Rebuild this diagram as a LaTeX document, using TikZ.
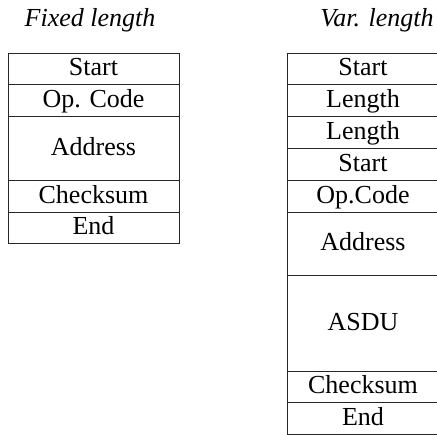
\documentclass[tikz,border=0pt]{standalone}
\usepackage{fontspec}
\setmainfont{Liberation Serif}
\usetikzlibrary{positioning}
\begin{document}
\begin{tikzpicture}[line width = 0.5pt,
field/.style = { draw = black!85, inner sep = 0pt, outer sep = 0pt, minimum height = #1*15.9pt,
font = \fontsize{13pt}{15pt}\selectfont, text height = 9.5pt, text depth = 2.5pt},
field/.default = 1,
fixfield/.style = { field = #1, minimum width = 85.5pt },
fixfield/.default = 1,
varfield/.style = { field = #1, minimum width = 76pt },
varfield/.default = 1,
title/.style = { font = \fontsize{13pt}{15pt}\selectfont\itshape }]
\useasboundingbox (0,0) rectangle (218.5pt,-217pt);
% titles
\node[title] (fixtitle) at (45pt,-10pt) {Fixed length};
\node[title] (vartitle) at (188.5pt,-10pt) {Var. length};
% fixed length frame
\node[fixfield, anchor = north west] (fstart) at (4pt,-26.5pt) {Start};
\node[fixfield, below = 0pt of fstart] (fop) {Op. Code};
\node[fixfield = 2, below = 0pt of fop] (faddr) {Address};
\node[fixfield, below = 0pt of faddr] (fsum) {Checksum};
\node[fixfield, below = 0pt of fsum] (fend) {End};
% variable length frame
\node[varfield, anchor = north west] (vstart) at (143.5pt,-26.5pt) {Start};
\node[varfield, below = 0pt of vstart] (vlen) {Length};
\node[varfield, below = 0pt of vlen] (vlenb) {Length};
\node[varfield, below = 0pt of vlenb] (vstartb) {Start};
\node[varfield, below = 0pt of vstartb] (vop) {Op.Code};
\node[varfield = 2, below = 0pt of vop] (vaddr) {Address};
\node[varfield = 3, below = 0pt of vaddr] (vasdu) {ASDU};
\node[varfield, below = 0pt of vasdu] (vsum) {Checksum};
\node[varfield, below = 0pt of vsum] (vend) {End};
\end{tikzpicture}
\end{document}
